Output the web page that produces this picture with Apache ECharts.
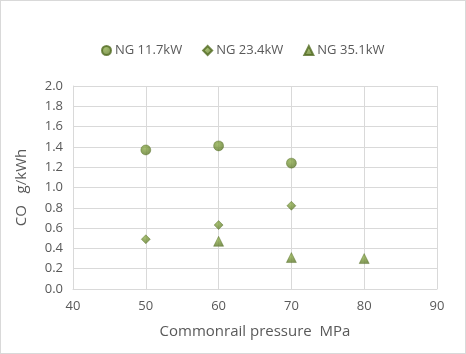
<!DOCTYPE html>
<html>
<head>
<meta charset="utf-8">
<script src="https://cdn.jsdelivr.net/npm/echarts@6/dist/echarts.min.js"></script>
<style>
  html, body { margin: 0; padding: 0; background: #fff; }
  #main { width: 464px; height: 352px; border: 1px solid #d9d9d9; }
</style>
</head>
<body>
<div id="main"></div>
<script>
// 各工况数据 (x: 共轨压力 MPa, y: CO g/kWh)
const seriesNames = ['NG 11.7kW', 'NG 23.4kW', 'NG 35.1kW'];
const ng117 = [[50, 1.37], [60, 1.41], [70, 1.24]];
const ng234 = [[50, 0.49], [60, 0.63], [70, 0.82]];
const ng351 = [[60, 0.47], [70, 0.31], [80, 0.30]];
const symbols = ['circle', 'diamond', 'triangle'];
const sizes = [10, 9, 10];

const font = '"Open Sans", "DejaVu Sans", sans-serif';
const gray = '#595959';
const gridColor = '#d9d9d9';

const myChart = echarts.init(document.getElementById('main'));

const markColor = () => new echarts.graphic.RadialGradient(0.4, 0.35, 0.7, [
  { offset: 0, color: '#8fae4c' },
  { offset: 1, color: '#5b7628' }
]);

const option = {
  animation: false,
  textStyle: { fontFamily: font },
  legend: {
    top: 38,
    left: 95,
    itemGap: 20,
    itemWidth: 9,
    itemHeight: 9,
    textStyle: { color: gray, fontSize: 13, fontFamily: font, padding: [0, 0, 0, -1] },
    data: seriesNames
  },
  grid: {
    left: 72,
    right: 28,
    top: 85,
    bottom: 64
  },
  xAxis: {
    type: 'value',
    min: 40,
    max: 90,
    interval: 10,
    name: 'Commonrail pressure  MPa',
    nameLocation: 'middle',
    nameGap: 35,
    nameTextStyle: { color: gray, fontSize: 15, fontFamily: font },
    axisLine: { show: true, lineStyle: { color: gridColor } },
    axisTick: { show: false },
    axisLabel: { color: gray, fontSize: 13, margin: 11 },
    splitLine: { show: true, lineStyle: { color: gridColor } }
  },
  yAxis: {
    type: 'value',
    min: 0,
    max: 2,
    interval: 0.2,
    name: 'CO   g/kWh',
    nameLocation: 'middle',
    nameGap: 44,
    nameTextStyle: { color: gray, fontSize: 15, fontFamily: font },
    axisLine: { show: true, lineStyle: { color: gridColor } },
    axisTick: { show: false },
    axisLabel: {
      color: gray,
      fontSize: 13,
      margin: 10,
      formatter: v => v.toFixed(1)
    },
    splitLine: { show: true, lineStyle: { color: gridColor } }
  },
  series: [ng117, ng234, ng351].map((d, i) => ({
    name: seriesNames[i],
    type: 'scatter',
    symbol: symbols[i],
    symbolSize: sizes[i],
    data: d,
    itemStyle: {
      color: markColor(),
      borderColor: '#536c22',
      borderWidth: 0.5
    }
  }))
};

myChart.setOption(option);
</script>
</body>
</html>
